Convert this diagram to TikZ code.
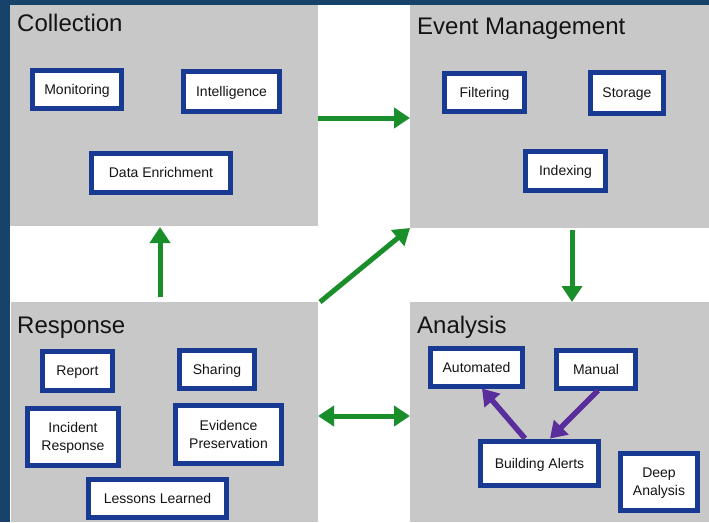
\documentclass[tikz,border=0pt]{standalone}
\usepackage{fontspec}
\setmainfont{Liberation Sans}
\usetikzlibrary{arrows.meta,shadows}
\definecolor{bgblue}{HTML}{17426A}
\definecolor{panelgray}{HTML}{C8C8C8}
\definecolor{boxblue}{HTML}{183A92}
\definecolor{arrgreen}{HTML}{1A8E2A}
\definecolor{arrpurple}{HTML}{5A2D9C}
\definecolor{txt}{HTML}{141414}
\begin{document}
\begin{tikzpicture}[x=1pt,y=-1pt,
  panel/.style={draw=none,fill=panelgray,anchor=north west,inner sep=0pt,outer sep=0pt},
  ptitle/.style={anchor=base west,inner sep=0pt,text=txt,font=\fontsize{24}{28}\selectfont},
  bx/.style={draw=boxblue,line width=5pt,fill=white,text=txt,align=center,inner sep=0pt,
    text depth=0pt,
    font=\fontsize{14}{18}\selectfont,
    drop shadow={shadow xshift=2pt,shadow yshift=-2.5pt,opacity=0.4,fill=black}},
  garrow/.style={draw=arrgreen,line width=5pt,-{Triangle[length=16pt,width=20pt]}},
  gdarrow/.style={draw=arrgreen,line width=5pt,{Triangle[length=16pt,width=20pt]}-{Triangle[length=16pt,width=20pt]}},
  parrow/.style={draw=arrpurple,line width=5.5pt,-{Triangle[length=16pt,width=20pt]}}
]
\useasboundingbox (0,0) rectangle (709,522);
\fill[bgblue] (0,0) rectangle (709,522);
\fill[white] (10,5) rectangle (709,522);

% panels
\node[panel,minimum width=308pt,minimum height=221pt] (col) at (10,5) {};
\node[panel,minimum width=299pt,minimum height=223pt] (evt) at (410,5) {};
\node[panel,minimum width=307pt,minimum height=220pt] (res) at (11,302) {};
\node[panel,minimum width=299pt,minimum height=220pt] (ana) at (410,302) {};

% titles
\node[ptitle] (tcol) at (17,31.5) {Collection};
\node[ptitle] (tevt) at (417,34.5) {Event Management};
\node[ptitle] (tres) at (17,333) {Response};
\node[ptitle] (tana) at (417,333) {Analysis};

% boxes (outer size minus line width)
\node[bx,minimum width=89pt,minimum height=38pt] (mon) at (77,89) {Monitoring};
\node[bx,minimum width=96pt,minimum height=40pt] (int) at (231.5,91) {Intelligence};
\node[bx,minimum width=139pt,minimum height=39pt] (den) at (161,172.5) {Data Enrichment};

\node[bx,minimum width=80pt,minimum height=38pt] (fil) at (484.5,92) {Filtering};
\node[bx,minimum width=73pt,minimum height=41pt] (sto) at (627,92.5) {Storage};
\node[bx,minimum width=80pt,minimum height=39pt] (idx) at (565.5,170.5) {Indexing};

\node[bx,minimum width=70pt,minimum height=39pt] (rep) at (77.5,370.5) {Report};
\node[bx,minimum width=75pt,minimum height=38pt] (sha) at (217,369) {Sharing};
\node[bx,minimum width=91pt,minimum height=57pt] (inc) at (73,436.5) {Incident\\Response};
\node[bx,minimum width=106pt,minimum height=58pt] (evi) at (228.5,434) {Evidence\\Preservation};
\node[bx,minimum width=138pt,minimum height=38pt] (les) at (157.5,498) {Lessons Learned};

\node[bx,minimum width=92pt,minimum height=38pt] (aut) at (476.5,367) {Automated};
\node[bx,minimum width=79pt,minimum height=38pt] (man) at (596,369) {Manual};
\node[bx,minimum width=118pt,minimum height=44pt] (bui) at (539.5,463) {Building Alerts};
\node[bx,minimum width=77pt,minimum height=57pt] (dee) at (659,481.5) {Deep\\Analysis};

% green arrows between panels
\draw[garrow] (col.east |- 0,118) -- (evt.west |- 0,118);
\draw[garrow] (res.north -| 160,0) ++(0,-5) -- (160,227);
\draw[garrow] (res.north east) ++(2,0) -- (evt.south west);
\draw[garrow] (evt.south -| 572,0) ++(0,2) -- (ana.north -| 572,0);
\draw[gdarrow] (res.east |- 0,416) -- (ana.west |- 0,416);

% purple arrows
\draw[parrow] (bui.north -| 525,0) -- (aut.south -| 482,0);
\draw[parrow] (man.south -| 598,0) -- (bui.north -| 550,0);
\end{tikzpicture}
\end{document}
